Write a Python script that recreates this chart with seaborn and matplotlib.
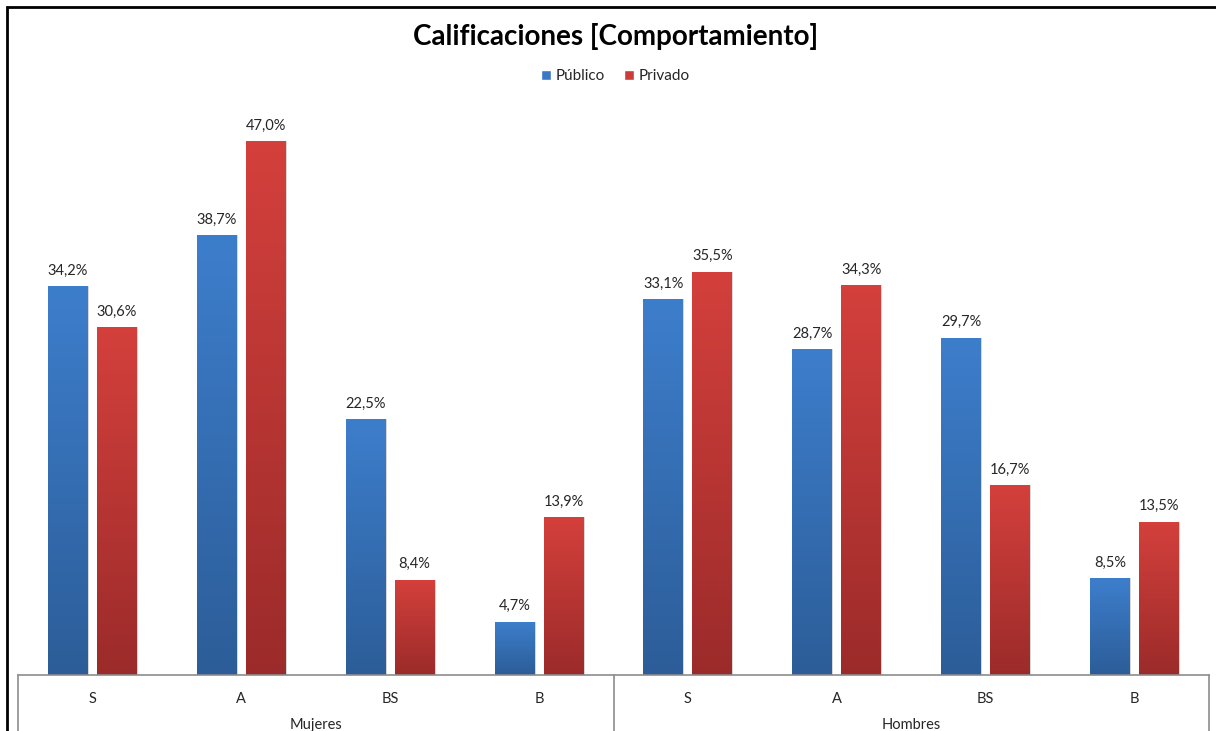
import numpy as np
import pandas as pd
import matplotlib
matplotlib.use("Agg")
import matplotlib.pyplot as plt
from matplotlib.colors import LinearSegmentedColormap
from matplotlib.patches import Rectangle
import seaborn as sns

# data
grupos = ["Mujeres", "Hombres"]
categorias = ["S", "A", "BS", "B"]
series = ["Público", "Privado"]
publico = [34.2, 38.7, 22.5, 4.7, 33.1, 28.7, 29.7, 8.5]
privado = [30.6, 47.0, 8.4, 13.9, 35.5, 34.3, 16.7, 13.5]

etiquetas = [g + " " + c for g in grupos for c in categorias]
df = pd.DataFrame({
    "pos": etiquetas * 2,
    "serie": [series[0]] * 8 + [series[1]] * 8,
    "valor": publico + privado,
})

sns.set_style("white")
plt.rcParams["font.family"] = ["Lato", "DejaVu Sans"]

fig = plt.figure(figsize=(12.16, 7.31), dpi=100)
ax = fig.add_axes([18 / 1216, 1 - 675 / 731, (1209 - 18) / 1216, (675 - 107) / 731])

colores = {"Público": "#3a78c6", "Privado": "#cc3c38"}
sns.barplot(data=df, x="pos", y="valor", hue="serie", order=etiquetas,
            hue_order=series, palette=colores, width=0.658, gap=0.184,
            ax=ax, legend=False)

# gradient fill per bar (light at top, dark at bottom)
grad = {
    "Público": ("#2c5d98", "#3d7ecc"),
    "Privado": ("#9b2b2a", "#d4403c"),
}
bars = ax.patches
for i, bar in enumerate(bars):
    serie = series[i // 8]
    cmap = LinearSegmentedColormap.from_list("g", grad[serie])
    x0, y0 = bar.get_x(), bar.get_y()
    w, h = bar.get_width(), bar.get_height()
    img = ax.imshow(np.linspace(0, 1, 256).reshape(-1, 1), cmap=cmap,
                    origin="lower", aspect="auto",
                    extent=[x0, x0 + w, y0, y0 + h], zorder=2)
    img.set_clip_path(bar)
    bar.set_facecolor("none")
    bar.set_edgecolor("#d0d0d0")
    bar.set_linewidth(0.6)
    val = publico[i] if i < 8 else privado[i - 8]
    ax.annotate(f"{val:.1f}%".replace(".", ","), (x0 + w / 2, y0 + h),
                xytext=(0, 6), textcoords="offset points",
                ha="center", va="bottom", fontsize=10.5, color="#262626")

ax.set_xlim(-0.5, 7.5)
ax.set_ylim(0, 50)

# axes styling
for s in ["top", "right", "left"]:
    ax.spines[s].set_visible(False)
ax.spines["bottom"].set_color("#8c8c8c")
ax.spines["bottom"].set_linewidth(1.2)
ax.set_yticks([])
ax.set_ylabel("")
ax.set_xlabel("")
ax.set_xticks(range(8))
ax.set_xticklabels(categorias * 2, fontsize=10.5, color="#262626")
ax.tick_params(axis="x", length=0, pad=12)

# group labels and separators
trans = ax.get_xaxis_transform()
for j, g in enumerate(grupos):
    ax.text(j * 4 + 1.5, -0.0875, g, transform=trans, ha="center", va="center",
            fontsize=10.5, color="#262626")
for xs in [-0.5, 3.5, 7.5]:
    ax.plot([xs, xs], [0, -0.2], transform=trans, color="#8c8c8c",
            lw=1.2, clip_on=False)

# title and legend
fig.text(0.506, 1 - 36 / 731, "Calificaciones [Comportamiento]", ha="center",
         va="center", fontsize=20, fontweight="bold", color="black")
handles = [Rectangle((0, 0), 1, 1, facecolor=colores[s]) for s in series]
fig.legend(handles, series, loc="center", bbox_to_anchor=(0.506, 1 - 76 / 731),
           ncol=2, frameon=False, fontsize=11, handlelength=0.65,
           handleheight=0.65, handletextpad=0.3, columnspacing=1.3)

# outer chart frame
fig.add_artist(Rectangle((7 / 1216, -0.1), 1.2, 0.1 + 1 - 7 / 731,
                         transform=fig.transFigure, fill=False,
                         edgecolor="black", lw=2))

fig.savefig("out.png", dpi=100)
